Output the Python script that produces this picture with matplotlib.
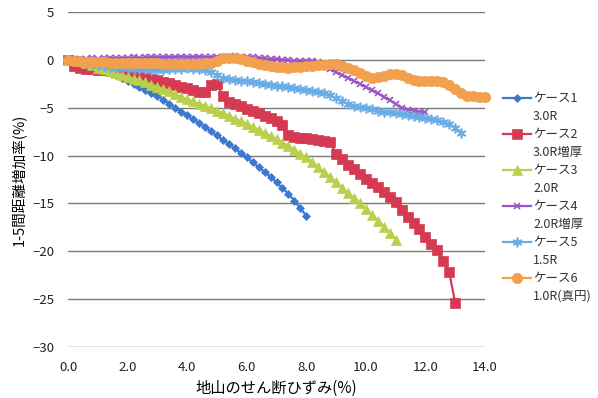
import numpy as np
import matplotlib
matplotlib.use("Agg")
import matplotlib.pyplot as plt
from matplotlib.lines import Line2D

plt.rcParams['font.family'] = ['Noto Sans CJK JP', 'DejaVu Sans']

STEP = 0.2  # strain increment (%) between recorded points

case1 = [0, -0.05, -0.15, -0.3, -0.5, -0.7, -1.0, -1.3, -1.6, -1.9, -2.2, -2.5, -2.8, -3.1, -3.45,
         -3.8, -4.2, -4.6, -5.0, -5.4, -5.8, -6.2, -6.6, -7.0, -7.45, -7.9, -8.35, -8.8, -9.25, -9.7,
         -10.2, -10.7, -11.2, -11.7, -12.2, -12.8, -13.4, -14.0, -14.7, -15.5, -16.3]

case2 = [0, -0.6, -0.8, -1.0, -1.0, -1.1, -1.1, -1.2, -1.3, -1.4, -1.5, -1.6, -1.8, -1.9, -2.0,
         -2.1, -2.3, -2.4, -2.6, -2.8, -2.9, -3.2, -3.4, -3.4, -2.6, -2.5, -3.8, -4.4, -4.6, -4.8,
         -5.1, -5.3, -5.6, -5.9, -6.1, -6.4, -6.8, -7.8, -8.1, -8.2, -8.2, -8.3, -8.4, -8.5, -8.6,
         -9.8, -10.4, -11.0, -11.4, -11.9, -12.4, -12.9, -13.3, -13.8, -14.3, -14.9, -15.7, -16.4, -17.0, -17.7,
         -18.5, -19.2, -19.9, -21.0, -22.2, -25.4]

case3 = [0, -0.05, -0.15, -0.3, -0.55, -0.8, -1.0, -1.2, -1.35, -1.55, -1.75, -1.95, -2.15, -2.35, -2.6,
         -2.8, -3.05, -3.3, -3.55, -3.85, -4.1, -4.35, -4.6, -4.8, -5.05, -5.3, -5.55, -5.85, -6.15, -6.4,
         -6.7, -7.0, -7.3, -7.65, -7.95, -8.3, -8.65, -9.0, -9.4, -9.8, -10.2, -10.7, -11.2, -11.7, -12.25,
         -12.8, -13.35, -13.9, -14.45, -15.0, -15.6, -16.2, -16.8, -17.45, -18.1, -18.8]

case4 = [0, 0.05, 0.1, 0.1, 0.15, 0.1, 0.15, 0.2, 0.15, 0.2, 0.2, 0.25, 0.2, 0.25, 0.3,
         0.25, 0.3, 0.3, 0.3, 0.35, 0.3, 0.3, 0.35, 0.3, 0.3, 0.35, 0.3, 0.35, 0.4, 0.35,
         0.3, 0.3, 0.2, 0.15, 0.1, 0.05, 0.0, -0.05, -0.1, -0.1, -0.1, -0.15, -0.2, -0.5, -1.0,
         -1.3, -1.6, -1.9, -2.2, -2.5, -2.85, -3.2, -3.5, -3.85, -4.2, -4.6, -5.0, -5.2, -5.3, -5.4,
         -5.5]

case5 = [0, -0.1, -0.2, -0.3, -0.4, -0.5, -0.6, -0.7, -0.8, -0.85, -0.9, -0.95, -1.0, -1.0, -1.05,
         -1.1, -1.05, -1.0, -1.0, -0.95, -0.9, -0.95, -1.0, -1.1, -1.3, -1.6, -1.9, -2.0, -2.1, -2.2,
         -2.25, -2.3, -2.4, -2.5, -2.6, -2.7, -2.75, -2.85, -2.95, -3.05, -3.15, -3.25, -3.35, -3.5, -3.7,
         -4.0, -4.3, -4.6, -4.8, -4.95, -5.05, -5.15, -5.3, -5.4, -5.5, -5.6, -5.7, -5.75, -5.85, -5.95,
         -6.05, -6.15, -6.3, -6.45, -6.7, -7.1, -7.6]

case6 = [0, -0.1, -0.15, -0.2, -0.2, -0.25, -0.25, -0.3, -0.3, -0.3, -0.3, -0.35, -0.35, -0.3, -0.35,
         -0.35, -0.4, -0.4, -0.4, -0.4, -0.45, -0.45, -0.4, -0.35, -0.3, -0.1, 0.15, 0.2, 0.15, 0.05,
         -0.1, -0.25, -0.4, -0.5, -0.6, -0.7, -0.75, -0.8, -0.75, -0.7, -0.65, -0.6, -0.55, -0.55, -0.45,
         -0.4, -0.6, -0.9, -1.1, -1.4, -1.7, -1.85, -1.8, -1.65, -1.5, -1.45, -1.6, -1.9, -2.15, -2.25,
         -2.25, -2.2, -2.2, -2.35, -2.65, -3.0, -3.5, -3.75, -3.8, -3.85, -3.9]

case_names = ["ケース1", "ケース2", "ケース3", "ケース4", "ケース5", "ケース6"]
case_specs = ["3.0R", "3.0R増厚", "2.0R", "2.0R増厚", "1.5R", "1.0R(真円)"]
series = [case1, case2, case3, case4, case5, case6]

x_ticks = [0, 2, 4, 6, 8, 10, 12, 14]
x_ticklabels = ["0.0", "2.0", "4.0", "6.0", "8.0", "10.0", "12.0", "14.0"]
y_ticks = [5, 0, -5, -10, -15, -20, -25, -30]

colors = ['#3D78CF', '#D53A52', '#B8D04C', '#9A55C4', '#6AADE6', '#F2A04E']
markers = ['D', 's', '^', 'x', (6, 2, 0), 'o']
msizes = [4.5, 7, 6.5, 5, 7, 7.5]

fig = plt.figure(figsize=(5.98, 3.98), dpi=100)
ax = fig.add_axes([68/598, 1-347/398, (485-68)/598, (347-12)/398])

handles, texts = [], []
for y, name, spec, c, m, ms in zip(series, case_names, case_specs, colors, markers, msizes):
    x = np.arange(len(y)) * STEP
    ln, = ax.plot(x, y, color=c, marker=m, markersize=ms, lw=1.6,
                  markeredgewidth=1.2 if m in ('x', (6, 2, 0)) else 0.5, clip_on=False)
    handles += [ln, Line2D([], [], linestyle='none')]
    texts += [name, spec]

ax.set_xlim(0, 14)
ax.set_ylim(-30, 5)
ax.set_xticks(x_ticks)
ax.set_xticklabels(x_ticklabels)
ax.set_yticks(y_ticks)
for yt in y_ticks:
    ax.axhline(yt, color='#7a7a7a', lw=1.0, zorder=0)
for s in ax.spines.values():
    s.set_visible(False)
ax.tick_params(axis='both', length=0, labelsize=9.5, colors='#222222')
ax.tick_params(axis='x', pad=10)
ax.tick_params(axis='y', pad=10)

ax.set_xlabel("地山のせん断ひずみ(%)", fontsize=11, labelpad=4)
ax.set_ylabel("1-5間距離増加率(%)", fontsize=10.5, labelpad=4)

leg = fig.legend(handles, texts, loc='upper left', bbox_to_anchor=(503/598, 1-92/398), frameon=False,
                 fontsize=9, handlelength=2.2, handletextpad=0.2, labelspacing=0.4,
                 borderpad=0, borderaxespad=0)
for t in leg.get_texts():
    t.set_color('#333333')

fig.savefig("out.png", dpi=100)
